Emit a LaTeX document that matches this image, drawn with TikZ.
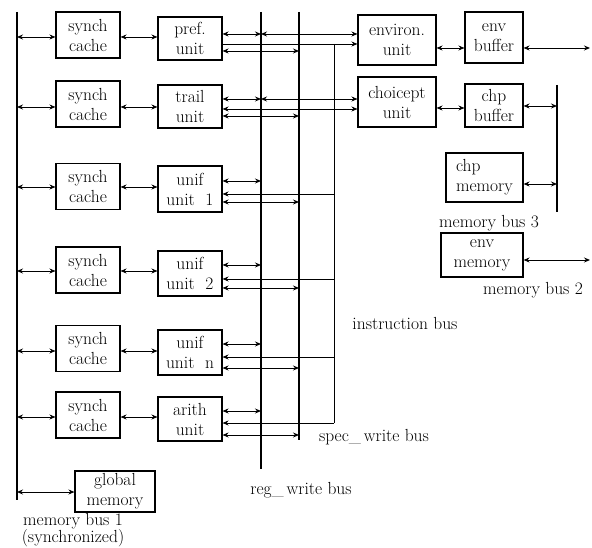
\documentclass[tikz,border=0pt]{standalone}
\usetikzlibrary{arrows.meta}
\begin{document}
\begin{tikzpicture}[x=1pt,y=-1pt,
  every node/.style={font=\fontsize{17.5}{20}\selectfont},
  box/.style={draw,line width=1.1pt,inner sep=0pt,align=center},
  cachebox/.style={box,minimum width=64pt,minimum height=46pt},
  unitbox/.style={box,minimum width=64pt,minimum height=45pt},
  bus/.style={line width=1.8pt},
  conn/.style={line width=0.9pt},
  bi/.style={conn,{Stealth[length=6pt,width=5pt]}-{Stealth[length=6pt,width=5pt]}},
  uni/.style={conn,-{Stealth[length=6pt,width=5pt]}},
  lbl/.style={inner sep=0pt}]
\useasboundingbox (0,0) rectangle (592,548);
% buses
\coordinate (mbT) at (17,12);  \coordinate (mbB) at (17,500);
\coordinate (regT) at (261,12); \coordinate (regB) at (261,469);
\coordinate (spT) at (299,12); \coordinate (spB) at (299,440);
\coordinate (inT) at (334,44); \coordinate (inB) at (334,423);
\coordinate (m3T) at (557,85); \coordinate (m3B) at (557,212);
\coordinate (eR) at (590,48); \coordinate (mR) at (590,260);
\draw[bus] (mbT) -- (mbB);
\draw[bus] (regT) -- (regB);
\draw[bus] (spT) -- (spB);
\draw[conn] (inT) -- (inB);
\draw[bus] (m3T) -- (m3B);
% caches
\node[cachebox] (c1) at (88,35) {synch\\cache};
\node[cachebox] (c2) at (88,104) {synch\\cache};
\node[cachebox] (c3) at (88,186.5) {synch\\cache};
\node[cachebox] (c4) at (88,270) {synch\\cache};
\node[cachebox] (c5) at (88,348.5) {synch\\cache};
\node[cachebox] (c6) at (88,415) {synch\\cache};
% units
\node[unitbox,minimum height=43pt] (u1) at (190,38.5) {pref.\\unit};
\node[unitbox,minimum height=43pt] (u2) at (190,106.5) {trail\\unit};
\node[unitbox,minimum height=46pt] (u3) at (190,189) {unif\\unit\ \ 1};
\node[unitbox] (u4) at (190,273.5) {unif\\unit\ \ 2};
\node[unitbox] (u5) at (190,352.5) {unif\\unit\ \ n};
\node[unitbox,minimum height=44pt] (u6) at (190,419) {arith\\unit};
% right side
\node[box,minimum width=78pt,minimum height=50pt] (env) at (397,40) {environ.\\unit};
\node[box,minimum width=58pt,minimum height=51pt] (eb) at (494,37.5) {env\\buffer};
\node[box,minimum width=78pt,minimum height=50pt] (cp) at (397,102) {choicept\\unit};
\node[box,minimum width=58pt,minimum height=43pt] (cb) at (494,105.5) {chp\\buffer};
\node[box,minimum width=77pt,minimum height=49pt,align=left] (cm) at (484.5,177.5) {chp\\memory};
\node[box,minimum width=82pt,minimum height=44pt] (em) at (482,255) {env\\memory};
\node[box,minimum width=80pt,minimum height=41pt] (gm) at (115,491.5) {global\\memory};
% bus 1 <-> caches, caches <-> units
\foreach \i/\y in {1/37,2/107,3/187,4/271,5/351,6/417}{
  \draw[bi] (mbT |- 0,\y) -- (c\i.west |- 0,\y);
  \draw[bi] (c\i.east |- 0,\y) -- (u\i.west |- 0,\y);
}
\draw[bi] (mbT |- 0,492) -- (gm.west |- 0,492);
% units <-> reg / spec buses
\foreach \i/\a/\b in {1/34/51,2/99/116,3/181/202,4/265/288,5/344/368,6/411/435}{
  \draw[bi] (u\i.east |- 0,\a) -- (regT |- 0,\a);
  \draw[bi] (u\i.east |- 0,\b) -- (spT |- 0,\b);
}
% instruction bus
\draw[uni] (u1.east |- 0,44) -- (env.west |- 0,44);
\draw[bi] (u2.east |- 0,109) -- (cp.west |- 0,109);
\foreach \i/\y in {3/194,4/279,5/357}{
  \draw[uni] (inT |- 0,\y) -- (u\i.east |- 0,\y);
}
\draw[uni] (inB) -- (u6.east |- inB);
% reg bus <-> environ / choicept
\draw[bi] (regT |- 0,34) -- (env.west |- 0,34);
\draw[bi] (regT |- 0,99) -- (cp.west |- 0,99);
% buffers and memories
\draw[bi] (env.east |- 0,48) -- (eb.west |- 0,48);
\draw[bi] (eb.east |- eR) -- (eR);
\draw[bi] (cp.east |- 0,108) -- (cb.west |- 0,108);
\draw[bi] (cb.east |- 0,106) -- (m3T |- 0,106);
\draw[bi] (cm.east |- 0,184) -- (m3T |- 0,184);
\draw[bi] (em.east |- mR) -- (mR);
% labels
\node[lbl] (l3) at (489,223) {memory bus 3};
\node[lbl] (l2) at (533,290) {memory bus 2};
\node[lbl] (li) at (405,323) {instruction bus};
\node[lbl] (ls) at (374,437) {spec\_\,write bus};
\node[lbl] (lr) at (301,490) {reg\_\,write bus};
\node[lbl] (l1) at (73,521) {memory bus 1};
\node[lbl] (l1b) at (73,538) {(synchronized)};
\end{tikzpicture}
\end{document}
